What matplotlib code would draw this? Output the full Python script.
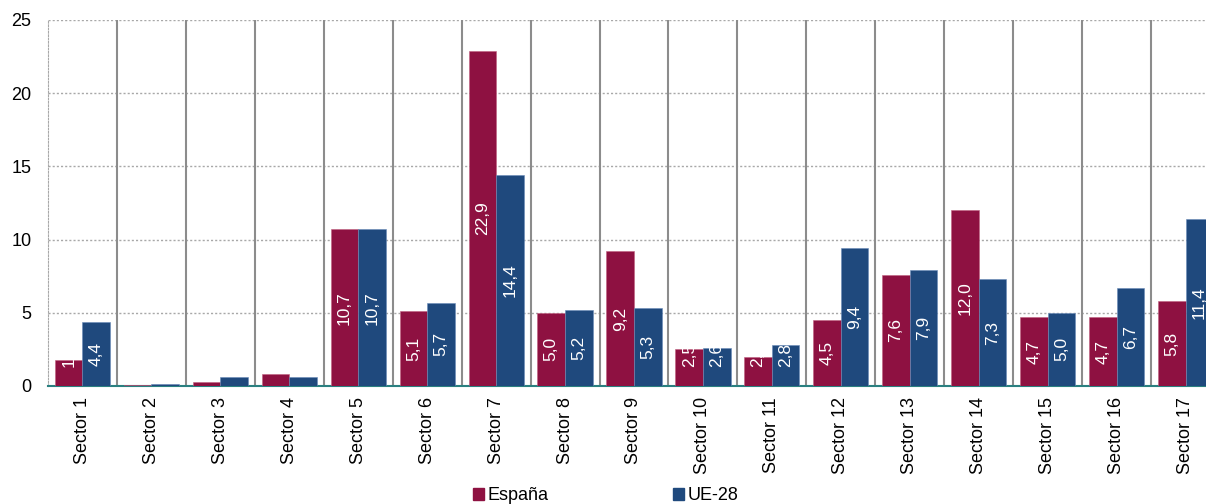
import numpy as np
import matplotlib
matplotlib.use("Agg")
import matplotlib.pyplot as plt
from matplotlib.patches import Patch

plt.rcParams['font.family'] = ['Liberation Sans', 'DejaVu Sans']

sectors = ["Sector %d" % i for i in range(1, 18)]
espana = [1.8, 0.1, 0.25, 0.8, 10.7, 5.1, 22.9, 5.0, 9.2, 2.5, 2.0, 4.5, 7.6, 12.0, 4.7, 4.7, 5.8]
ue28 = [4.4, 0.15, 0.6, 0.6, 10.7, 5.7, 14.4, 5.2, 5.3, 2.6, 2.8, 9.4, 7.9, 7.3, 5.0, 6.7, 11.4]

c_es = "#8E1141"
c_ue = "#1F497D"

fig = plt.figure(figsize=(12.06, 5.04), dpi=100)
ax = fig.add_axes([48/1206, 1-386/504, (1220-48)/1206, (386-20)/504])

x = np.arange(len(sectors))
w = 0.4
b1 = ax.bar(x - w/2, espana, w, color=c_es, edgecolor="#c06080", lw=0.4, zorder=3)
b2 = ax.bar(x + w/2, ue28, w, color=c_ue, edgecolor="#6a8ab8", lw=0.4, zorder=3)

# data labels, centred in the bar, clipped to it
for bars, vals in ((b1, espana), (b2, ue28)):
    for rect, v in zip(bars, vals):
        if v < 1.5:
            continue
        yc = max(v / 2, 2.1)
        t = ax.text(rect.get_x() + rect.get_width()/2, yc,
                    ("%.1f" % v).replace(".", ","), rotation=90,
                    ha="center", va="center", color="white", fontsize=12.5, zorder=4)
        t.set_clip_path(rect)

# separators between sectors
for s in x[:-1] + 0.5:
    ax.plot([s, s], [0, 25], color="#8c8c8c", lw=1.5, zorder=2)

ax.set_xlim(-0.5, len(sectors) - 0.5)
ax.set_ylim(0, 25)
ax.set_yticks([0, 5, 10, 15, 20, 25])
ax.yaxis.grid(True, color="#a8a8a8", ls=(0, (1.5, 1.5)), lw=1, zorder=1)
ax.set_axisbelow(True)

ax.set_xticks(x)
ax.set_xticklabels(sectors, rotation=90, fontsize=13)
ax.tick_params(axis="y", labelsize=13, length=0, pad=12)
ax.tick_params(axis="x", length=0, pad=8)

ax.spines["right"].set_visible(False)
ax.spines["top"].set_visible(False)
ax.spines["left"].set_color("#a8a8a8")
ax.spines["left"].set_linestyle((0, (1.5, 1.5)))
ax.spines["bottom"].set_color("#2a8080")
ax.spines["bottom"].set_linewidth(1.5)

handles = [Patch(color=c_es, label="España"), Patch(color=c_ue, label="UE-28")]
fig.legend(handles=handles, loc="center", bbox_to_anchor=(606/1206, 1-496/504), ncol=2,
           frameon=False, fontsize=13, handlelength=0.6, handleheight=0.6,
           handletextpad=0.2, columnspacing=6.9, borderpad=0)

fig.savefig("out.png", dpi=100)
